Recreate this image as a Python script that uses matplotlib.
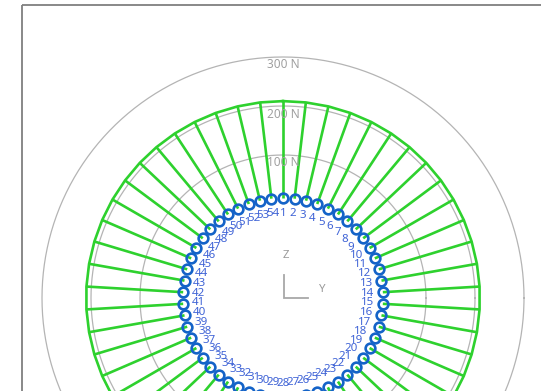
import numpy as np
import matplotlib
matplotlib.use("Agg")
import matplotlib.pyplot as plt

# ---- data ----
bolt_ids = list(range(1, 55))
bolt_forces = [210, 210, 210, 210, 210, 210, 210, 210, 210, 210,
               210, 210, 210, 210, 210, 210, 210, 210, 210, 210,
               210, 210, 210, 210, 210, 210, 210, 210, 210, 210,
               210, 210, 210, 210, 210, 210, 210, 210, 210, 210,
               210, 210, 210, 210, 210, 210, 210, 210, 210, 210,
               210, 210, 210, 210]
ring_values = [100, 200, 300]
ring_labels = ["100 N", "200 N", "300 N"]

# ---- geometry (pixels) ----
W, H = 541, 391
CX, CY = 283, 298          # centre in image pixels
R_BOLT = 100               # bolt circle radius
R_ZERO = 94                # radius of 0 N
PX_PER_N = 0.49
R_LABEL = 85

fig = plt.figure(figsize=(W / 100, H / 100), dpi=100)
ax = fig.add_axes([0, 0, 1, 1])
ax.set_xlim(-CX, W - CX)
ax.set_ylim(-(H - CY), CY)
ax.axis("off")

font = "Noto Sans"

# frame of the view
ax.plot([21.5 - CX, 21.5 - CX], [-(H - CY), CY - 4.5], color="#7f7f7f", lw=1.3, solid_capstyle="butt")
ax.plot([21.5 - CX, W - CX], [CY - 4.5, CY - 4.5], color="#7f7f7f", lw=1.3, solid_capstyle="butt")

# grey force rings
t = np.linspace(0, 2 * np.pi, 721)
for v, lab in zip(ring_values, ring_labels):
    r = R_ZERO + v * PX_PER_N
    ax.plot(r * np.cos(t), r * np.sin(t), color="#b4b4b4", lw=0.9, zorder=1)
    ax.text(0, r - 8, lab, ha="center", va="center", color="#a0a0a0",
            fontsize=8.5, family=font, zorder=6)

# bolt angles (clockwise from top)
n = len(bolt_ids)
ang = np.array([(i - 1) * 2 * np.pi / n for i in bolt_ids])
sx, sy = np.sin(ang), np.cos(ang)

rt = R_ZERO + np.array(bolt_forces) * PX_PER_N
bx, by = R_BOLT * sx, R_BOLT * sy
tx, ty = rt * sx, rt * sy

for i in range(n):
    ax.plot([bx[i], tx[i]], [by[i], ty[i]], color="#2ed12e", lw=1.9, zorder=2,
            solid_capstyle="butt")
ax.plot(np.append(tx, tx[0]), np.append(ty, ty[0]), color="#2ed12e", lw=1.9, zorder=2)

# bolts
ax.plot(bx, by, "o", ms=7.0, mfc="none", mec="#1463c8", mew=1.9, ls="none", zorder=4)

# bolt labels
for i, b in enumerate(bolt_ids):
    ax.text(R_LABEL * sx[i], R_LABEL * sy[i], str(b), ha="center", va="center",
            color="#3f63d6", fontsize=8.3, family=font, zorder=5)

# axis triad
ax.plot([1, 1, 25], [23, 0, 0], color="#a8a8a8", lw=1.3, zorder=3, solid_joinstyle="miter")
ax.text(3, 43, "Z", ha="center", va="center", color="#9a9a9a", fontsize=8.3, family=font)
ax.text(39, 8, "Y", ha="center", va="center", color="#9a9a9a", fontsize=8.3, family=font)

fig.savefig("out.png", dpi=100)
